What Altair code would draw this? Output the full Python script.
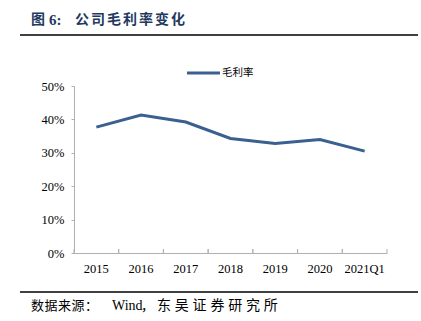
import altair as alt
import pandas as pd

years = ["2015", "2016", "2017", "2018", "2019", "2020", "2021Q1"]
margin = [0.377, 0.413, 0.392, 0.343, 0.328, 0.340, 0.305]
title_fig = "图"
title_num = "6:"
title_body = "公司毛利率变化"
source_head = "数据来源："
source_wind = "Wind"
source_comma = "，"
source_body = "东吴证券研究所"
legend_label = ["毛利率"]

df = pd.DataFrame({"year": years, "margin": margin})

serif = "Liberation Serif"
cjk = "Noto Sans CJK SC"
line_color = "#3a6090"
title_color = "#1f3a5f"

base = alt.Chart(df)
xscale = alt.Scale(domain=years, paddingInner=0, paddingOuter=0)

line = base.mark_line(color=line_color, strokeWidth=3).encode(
    x=alt.X("year:N", sort=years, title=None, scale=xscale,
            axis=alt.Axis(labelAngle=0, labelFont=serif, labelFontSize=12.5, labelColor="#000",
                          domainColor="#b0b0b0", ticks=False, labelPadding=9)),
    y=alt.Y("margin:Q", title=None,
            scale=alt.Scale(domain=[0, 0.5]),
            axis=alt.Axis(format=".0%", values=[0, 0.1, 0.2, 0.3, 0.4, 0.5], grid=False,
                          labelFont=serif, labelFontSize=12.5, labelColor="#000",
                          domainColor="#b0b0b0", tickColor="#b0b0b0", tickSize=3,
                          labelPadding=7)),
)

ticks_start = base.mark_rule(color="#b0b0b0", strokeWidth=1).encode(
    x=alt.X("year:N", sort=years, scale=xscale, bandPosition=0),
    y=alt.value(167), y2=alt.value(163))
ticks_end = base.mark_rule(color="#b0b0b0", strokeWidth=1).encode(
    x=alt.X("year:N", sort=years, scale=xscale, bandPosition=1),
    y=alt.value(167), y2=alt.value(163))


def spaced(text, x0, step, y, **kw):
    d = pd.DataFrame({"c": list(text)})
    return alt.Chart(d).transform_window(i="row_number()").transform_calculate(
        px=f"{x0} + (datum.i - 1) * {step}"
    ).mark_text(align="left", baseline="middle", **kw).encode(
        x=alt.X("px:Q", scale=None), y=alt.value(y), text="c:N")


def single(text, x, y, **kw):
    return alt.Chart(pd.DataFrame({"t": [text]})).mark_text(
        align="left", baseline="middle", **kw).encode(
        x=alt.value(x), y=alt.value(y), text="t:N")


title1 = single(title_fig, -43, -66, font=cjk, fontSize=14, fontWeight="bold", color=title_color)
title2 = single(title_num, -25, -66, font=serif, fontSize=15, fontWeight="bold", color=title_color)
title3 = spaced(title_body, 1, 16, -66, font=cjk, fontSize=14, fontWeight="bold", color=title_color)

src1 = spaced(source_head, -43, 13.5, 220, font=cjk, fontSize=13, color="#000")
src2 = single(source_wind, 38, 220, font=serif, fontSize=14, color="#000")
src2b = single(source_comma, 67, 220, font=cjk, fontSize=13, color="#000")
src3 = spaced(source_body, 83, 17.8, 220, font=cjk, fontSize=14, color="#000")

rule_df = pd.DataFrame({"k": [0]})
top_rule = alt.Chart(rule_df).mark_rule(color="#000", strokeWidth=1.5).encode(
    x=alt.value(-54), x2=alt.value(344), y=alt.value(-51))
bottom_rule = alt.Chart(rule_df).mark_rule(color="#000", strokeWidth=1.5).encode(
    x=alt.value(-54), x2=alt.value(344), y=alt.value(206))

leg_df = pd.DataFrame({"t": legend_label})
leg_line = alt.Chart(leg_df).mark_rule(color=line_color, strokeWidth=3).encode(
    x=alt.value(113), x2=alt.value(146), y=alt.value(-13))
leg_text = alt.Chart(leg_df).mark_text(
    align="left", baseline="middle", font=cjk, fontSize=10.5, color="#000"
).encode(x=alt.value(148), y=alt.value(-13), text="t:N")

chart = alt.layer(line, ticks_start, ticks_end, title1, title2, title3,
                  src1, src2, src2b, src3,
                  top_rule, bottom_rule, leg_line, leg_text).properties(
    width=313, height=167,
    padding={"left": 74, "top": 86, "right": 34, "bottom": 68},
    autosize=alt.AutoSizeParams(type="none"),
    background="white",
).configure_view(stroke=None)

chart.save("out.html", embed_options={"renderer": "svg", "actions": False})
